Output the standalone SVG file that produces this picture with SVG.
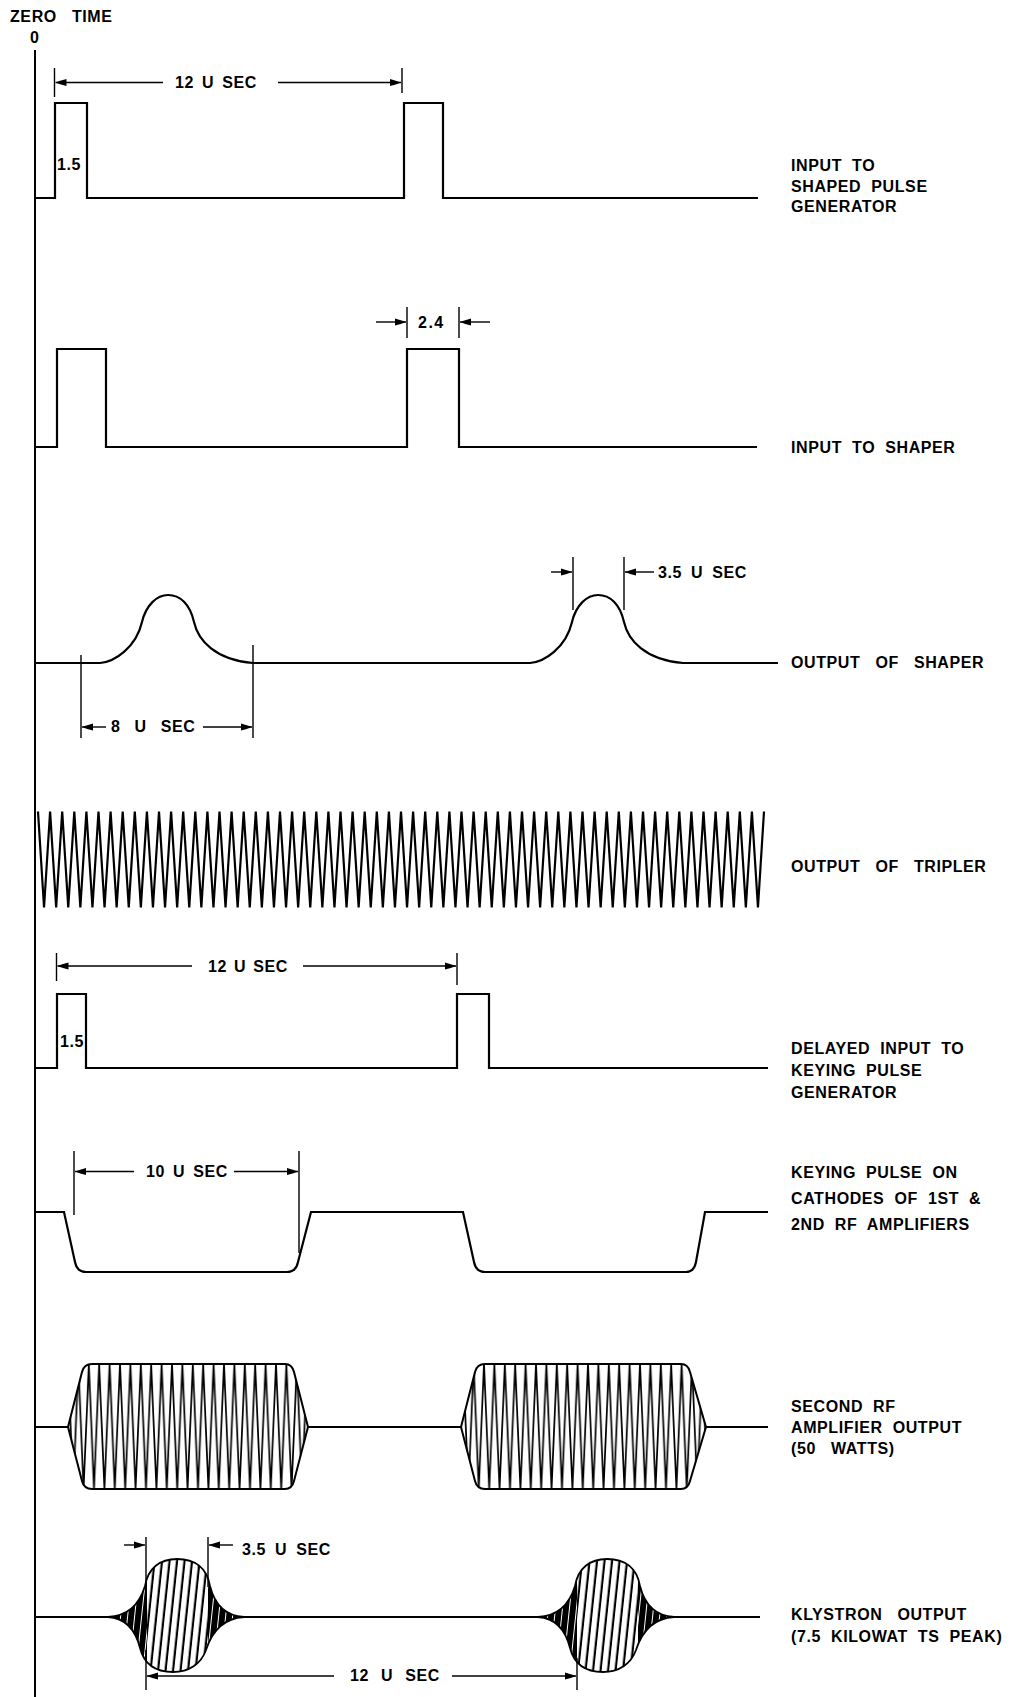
<svg xmlns="http://www.w3.org/2000/svg" width="1013" height="1697" viewBox="0 0 1013 1697">
<style>
.w{fill:none;stroke:#000;stroke-width:2.2;stroke-linejoin:miter}
.d{fill:none;stroke:#000;stroke-width:1.4}
.a{fill:none;stroke:#000;stroke-width:1.4;marker-end:url(#ah)}
.t{font-family:"Liberation Sans",Arial,sans-serif;font-weight:bold;font-size:16px;letter-spacing:0.6px;word-spacing:5px;fill:#000}
.ww{word-spacing:10px}
</style>
<defs>
<marker id="ah" viewBox="0 0 11 8" refX="11" refY="4" markerWidth="11" markerHeight="8" markerUnits="userSpaceOnUse" orient="auto"><path d="M0,0.5 Q6,2 11,4 Q6,6 0,7.5 Z" fill="#000"/></marker>
<pattern id="rfzig" patternUnits="userSpaceOnUse" x="68" y="1360" width="10.4" height="134"><rect width="10.4" height="134" fill="#fff"/><path d="M0,4 L5.2,129 L10.4,4" fill="none" stroke="#000" stroke-width="1.7"/></pattern>
<pattern id="klyHatch" patternUnits="userSpaceOnUse" width="7.5" height="10" patternTransform="skewX(-6)"><rect width="7.5" height="10" fill="#fff"/><rect x="2.5" width="2.2" height="10" fill="#000"/></pattern>
<pattern id="klyTail" patternUnits="userSpaceOnUse" width="7" height="10" patternTransform="skewX(-6)"><rect width="7" height="10" fill="#000"/><rect x="3" width="1" height="10" fill="#fff"/></pattern>
<path id="kly1" d="M108,1617 C127,1616 139,1606 145,1586 C148,1568 160,1559 177,1559 C195,1559 207,1568 210,1586 C215,1606 227,1616 244,1617 C227,1618 213,1628 206,1650 C201,1664 189,1672 173,1672 C156,1672 144,1664 140,1648 C135,1628 124,1618 108,1617 Z"/>
<path id="kly2" d="M538,1617 C557,1616 569,1606 575,1586 C578,1568 590,1559 607,1559 C625,1559 637,1568 640,1586 C645,1606 657,1616 674,1617 C657,1618 643,1628 636,1650 C631,1664 619,1672 603,1672 C586,1672 574,1664 570,1648 C565,1628 554,1618 538,1617 Z"/>
<clipPath id="kc1"><use href="#kly1"/></clipPath>
<clipPath id="kc2"><use href="#kly2"/></clipPath>
</defs>
<rect width="1013" height="1697" fill="#fff"/>

<g id="axis">
<line x1="35" y1="50" x2="35" y2="1697" stroke="#000" stroke-width="2"/>
<text class="t ww" x="10" y="22">ZERO TIME</text>
<text class="t" x="30" y="43">0</text>
</g>

<g id="row1-input-shaped-pulse-gen">
<path class="w" d="M35,198 H55 V103 H87 V198 H404 V103 H443 V198 H758"/>
<text class="t" x="57" y="170">1.5</text>
<text class="t" x="791" y="171">INPUT TO</text>
<text class="t" x="791" y="192">SHAPED PULSE</text>
<text class="t" x="791" y="212">GENERATOR</text>
</g>

<g id="row2-input-shaper">
<path class="w" d="M35,447 H57 V349 H106 V447 H407 V349 H459 V447 H757"/>
<text class="t" x="791" y="453">INPUT TO SHAPER</text>
</g>

<g id="row3-output-shaper">
<path class="w" d="M35,663 H100 C114,662 136,648 142,622 C146,605 157,595 168,595 C180,595 190,604 194,622 C198,640 215,660 253,663 H530 C544,662 566,648 572,622 C576,605 587,595 598,595 C610,595 620,604 624,622 C628,640 645,660 683,663 H778"/>
<text class="t ww" x="791" y="668">OUTPUT OF SHAPER</text>
</g>

<g id="row4-output-tripler">
<path class="w" stroke-width="2.8" stroke-linejoin="round" d="M38,811.5 l6.05 96 6.05 -96 6.05 96 6.05 -96 6.05 96 6.05 -96 6.05 96 6.05 -96 6.05 96 6.05 -96 6.05 96 6.05 -96 6.05 96 6.05 -96 6.05 96 6.05 -96 6.05 96 6.05 -96 6.05 96 6.05 -96
6.05 96 6.05 -96 6.05 96 6.05 -96 6.05 96 6.05 -96 6.05 96 6.05 -96 6.05 96 6.05 -96 6.05 96 6.05 -96 6.05 96 6.05 -96 6.05 96 6.05 -96 6.05 96 6.05 -96 6.05 96 6.05 -96
6.05 96 6.05 -96 6.05 96 6.05 -96 6.05 96 6.05 -96 6.05 96 6.05 -96 6.05 96 6.05 -96 6.05 96 6.05 -96 6.05 96 6.05 -96 6.05 96 6.05 -96 6.05 96 6.05 -96 6.05 96 6.05 -96
6.05 96 6.05 -96 6.05 96 6.05 -96 6.05 96 6.05 -96 6.05 96 6.05 -96 6.05 96 6.05 -96 6.05 96 6.05 -96 6.05 96 6.05 -96 6.05 96 6.05 -96 6.05 96 6.05 -96 6.05 96 6.05 -96
6.05 96 6.05 -96 6.05 96 6.05 -96 6.05 96 6.05 -96 6.05 96 6.05 -96 6.05 96 6.05 -96 6.05 96 6.05 -96 6.05 96 6.05 -96 6.05 96 6.05 -96 6.05 96 6.05 -96 6.05 96 6.05 -96
6.05 96 6.05 -96 6.05 96 6.05 -96 6.05 96 6.05 -96 6.05 96 6.05 -96 6.05 96 6.05 -96 6.05 96 6.05 -96 6.05 96 6.05 -96 6.05 96 6.05 -96 6.05 96 6.05 -96 6.05 96 6.05 -96"/>
<text class="t ww" x="791" y="872">OUTPUT OF TRIPLER</text>
</g>

<g id="row5-delayed-input">
<path class="w" d="M35,1068 H57 V994 H86 V1068 H457 V994 H489 V1068 H768"/>
<text class="t" x="60" y="1047">1.5</text>
<text class="t" x="791" y="1054">DELAYED INPUT TO</text>
<text class="t" x="791" y="1076">KEYING PULSE</text>
<text class="t" x="791" y="1098">GENERATOR</text>
</g>

<g id="row6-keying-pulse">
<path class="w" d="M35,1212 H64 L75,1262 Q77,1272 86,1272 H287 Q296,1272 298,1262 L311,1212 H463 L474,1262 Q476,1272 485,1272 H686 Q694,1272 696,1262 L705,1212 H768"/>
<text class="t" x="791" y="1178">KEYING PULSE ON</text>
<text class="t" x="791" y="1204">CATHODES OF 1ST &amp;</text>
<text class="t" x="791" y="1230">2ND RF AMPLIFIERS</text>
</g>

<g id="row7-second-rf-amp">
<path class="w" d="M35,1427 H68 M308,1427 H461 M706,1427 H768"/>
<path fill="url(#rfzig)" stroke="#000" stroke-width="2" d="M68,1427 L82,1372 Q84,1364 92,1364 H285 Q292,1364 294,1372 L308,1427 L294,1481 Q292,1489 285,1489 H92 Q84,1489 82,1481 Z"/>
<path fill="url(#rfzig)" stroke="#000" stroke-width="2" d="M461,1427 L475,1372 Q477,1364 485,1364 H681 Q688,1364 690,1372 L706,1427 L690,1481 Q688,1489 681,1489 H485 Q477,1489 475,1481 Z"/>
<text class="t" x="791" y="1412">SECOND RF</text>
<text class="t" x="791" y="1433">AMPLIFIER OUTPUT</text>
<text class="t ww" x="791" y="1454">(50 WATTS)</text>
</g>

<g id="row8-klystron">
<path class="w" stroke-width="1.8" d="M35,1617 H109 M243,1617 H539 M673,1617 H760"/>
<g clip-path="url(#kc1)">
<rect x="100" y="1555" width="150" height="120" fill="url(#klyHatch)"/>
<rect x="100" y="1555" width="47" height="120" fill="url(#klyTail)"/>
<rect x="208" y="1555" width="42" height="120" fill="url(#klyTail)"/>
</g>
<g clip-path="url(#kc2)">
<rect x="530" y="1555" width="150" height="120" fill="url(#klyHatch)"/>
<rect x="530" y="1555" width="47" height="120" fill="url(#klyTail)"/>
<rect x="638" y="1555" width="42" height="120" fill="url(#klyTail)"/>
</g>
<use href="#kly1" fill="none" stroke="#000" stroke-width="1.8"/>
<use href="#kly2" fill="none" stroke="#000" stroke-width="1.8"/>
<text class="t ww" x="791" y="1620">KLYSTRON OUTPUT</text>
<text class="t" x="791" y="1642">(7.5 KILOWAT TS PEAK)</text>
</g>

<g id="connectors">
<path class="d" d="M54.5,68 V97 M402,68 V93"/>
<path class="a" d="M163,82.5 H55.5"/>
<path class="a" d="M278,82.5 H401"/>
<text class="t" style="word-spacing:3px" x="175" y="88">12 U SEC</text>
<path class="d" d="M407,307 V338 M459,307 V338"/>
<path class="a" d="M376,322 H406"/>
<path class="a" d="M490,322 H460"/>
<text class="t" style="letter-spacing:1.5px" x="418" y="328">2.4</text>
<path class="d" d="M573,557 V610 M624,557 V610"/>
<path class="a" d="M551,572 H572"/>
<path class="a" d="M654,572 H625"/>
<text class="t" style="word-spacing:4px" x="658" y="578">3.5 U SEC</text>
<path class="d" d="M81,655 V738 M253,645 V738"/>
<path class="a" d="M106,727 H82"/>
<path class="a" d="M203,727 H252"/>
<text class="t" style="word-spacing:9px" x="111" y="732">8 U SEC</text>
<path class="d" d="M56.5,953 V981 M457,953 V985"/>
<path class="a" d="M192,966 H57.5"/>
<path class="a" d="M303,966 H456"/>
<text class="t" style="word-spacing:2px" x="208" y="971.5">12 U SEC</text>
<path class="d" d="M74,1151 V1215 M299,1151 V1253"/>
<path class="a" d="M134,1171.5 H75"/>
<path class="a" d="M234,1171.5 H298"/>
<text class="t" style="word-spacing:3px" x="146" y="1177">10 U SEC</text>
<path class="d" d="M146,1537 V1587 M208,1537 V1587"/>
<path class="a" d="M124,1545 H145"/>
<path class="a" d="M233,1545 H209"/>
<text class="t" style="word-spacing:4px" x="242" y="1555">3.5 U SEC</text>
<path class="d" d="M146,1650 V1690 M577,1658 V1690"/>
<path class="a" d="M334,1676 H147"/>
<path class="a" d="M452,1676 H576"/>
<text class="t" style="word-spacing:7px" x="350" y="1681">12 U SEC</text>
</g>
</svg>
